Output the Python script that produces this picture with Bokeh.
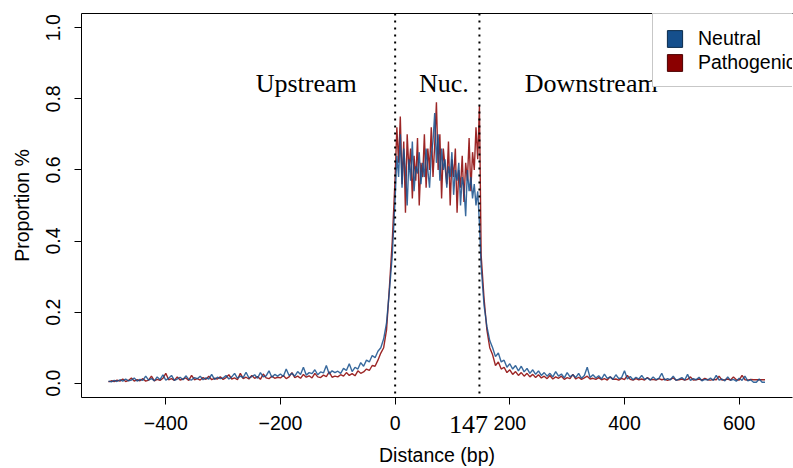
from bokeh.plotting import figure
from bokeh.models import (Range1d, FixedTicker, LinearAxis, Span, Label, Legend,
                          LegendItem, NumeralTickFormatter)
from bokeh.embed import file_html
from bokeh.resources import INLINE

# ---------------- data ----------------
up_x = list(range(-500, 0, 5))        # upstream positions (bp)
nuc_x = list(range(0, 148, 3))        # nucleosome positions (bp)
down_x = list(range(150, 646, 5))     # downstream positions (bp)

neutral_up = [
    0.006, 0.004, 0.008, 0.005, 0.010, 0.006, 0.012, 0.007, 0.009, 0.015,
    0.006, 0.011, 0.008, 0.020, 0.009, 0.013, 0.007, 0.018, 0.010, 0.024,
    0.009, 0.014, 0.022, 0.008, 0.012, 0.017, 0.010, 0.021, 0.011, 0.009,
    0.016, 0.013, 0.020, 0.010, 0.015, 0.012, 0.025, 0.011, 0.017, 0.013,
    0.015, 0.022, 0.012, 0.018, 0.028, 0.014, 0.020, 0.016, 0.031, 0.015,
    0.019, 0.024, 0.014, 0.030, 0.018, 0.021, 0.035, 0.017, 0.025, 0.020,
    0.026, 0.019, 0.040, 0.022, 0.028, 0.020, 0.033, 0.025, 0.045, 0.023,
    0.030, 0.027, 0.038, 0.024, 0.032, 0.029, 0.050, 0.026, 0.035, 0.030,
    0.034, 0.028, 0.042, 0.036, 0.055, 0.033, 0.045, 0.040, 0.058, 0.048,
    0.065, 0.060, 0.078, 0.072, 0.090, 0.100, 0.125, 0.170, 0.260, 0.360]
neutral_nuc = [
    0.52, 0.64, 0.58, 0.70, 0.55, 0.66, 0.60, 0.50, 0.63, 0.57,
    0.68, 0.54, 0.61, 0.59, 0.65, 0.56, 0.62, 0.58, 0.66, 0.60,
    0.55, 0.64, 0.68, 0.76, 0.62, 0.70, 0.57, 0.66, 0.60, 0.63,
    0.55, 0.61, 0.58, 0.65, 0.53, 0.60, 0.57, 0.62, 0.50, 0.58,
    0.55, 0.47, 0.60, 0.54, 0.58, 0.52, 0.56, 0.50, 0.54, 0.45]
neutral_down = [
    0.330, 0.220, 0.160, 0.120, 0.100, 0.075, 0.085, 0.060, 0.065, 0.045,
    0.055, 0.040, 0.050, 0.035, 0.048, 0.032, 0.042, 0.028, 0.038, 0.025,
    0.035, 0.022, 0.030, 0.020, 0.028, 0.018, 0.033, 0.020, 0.026, 0.015,
    0.030, 0.018, 0.024, 0.016, 0.028, 0.014, 0.022, 0.045, 0.016, 0.024,
    0.015, 0.021, 0.012, 0.026, 0.014, 0.018, 0.011, 0.024, 0.013, 0.016,
    0.035, 0.012, 0.019, 0.010, 0.017, 0.012, 0.022, 0.011, 0.015, 0.009,
    0.018, 0.010, 0.014, 0.028, 0.009, 0.013, 0.010, 0.020, 0.008, 0.012,
    0.016, 0.009, 0.025, 0.008, 0.013, 0.010, 0.017, 0.007, 0.011, 0.009,
    0.015, 0.008, 0.022, 0.009, 0.012, 0.007, 0.018, 0.008, 0.011, 0.006,
    0.014, 0.008, 0.020, 0.007, 0.010, 0.003, 0.003, 0.012, 0.003, 0.003]

patho_up = [
    0.004, 0.007, 0.005, 0.009, 0.006, 0.012, 0.005, 0.008, 0.015, 0.006,
    0.010, 0.007, 0.013, 0.006, 0.009, 0.020, 0.007, 0.011, 0.008, 0.014,
    0.028, 0.010, 0.013, 0.008, 0.018, 0.009, 0.012, 0.015, 0.008, 0.022,
    0.010, 0.013, 0.009, 0.016, 0.011, 0.020, 0.010, 0.014, 0.012, 0.018,
    0.011, 0.016, 0.024, 0.012, 0.015, 0.010, 0.028, 0.013, 0.017, 0.012,
    0.022, 0.014, 0.019, 0.011, 0.026, 0.015, 0.013, 0.020, 0.014, 0.017,
    0.015, 0.022, 0.013, 0.018, 0.030, 0.016, 0.020, 0.014, 0.025, 0.017,
    0.021, 0.015, 0.028, 0.018, 0.016, 0.023, 0.019, 0.032, 0.017, 0.020,
    0.018, 0.024, 0.020, 0.030, 0.022, 0.027, 0.021, 0.035, 0.028, 0.032,
    0.040, 0.036, 0.050, 0.048, 0.065, 0.085, 0.100, 0.150, 0.270, 0.400]
patho_nuc = [
    0.58, 0.72, 0.62, 0.75, 0.56, 0.68, 0.48, 0.70, 0.60, 0.66,
    0.52, 0.64, 0.57, 0.69, 0.50, 0.62, 0.58, 0.70, 0.55, 0.66,
    0.60, 0.72, 0.58, 0.67, 0.79, 0.60, 0.70, 0.52, 0.66, 0.61,
    0.56, 0.68, 0.50, 0.63, 0.58, 0.66, 0.48, 0.60, 0.55, 0.64,
    0.51, 0.62, 0.57, 0.69, 0.54, 0.65, 0.60, 0.72, 0.63, 0.78]
patho_down = [
    0.360, 0.240, 0.150, 0.100, 0.080, 0.050, 0.060, 0.040, 0.045, 0.030,
    0.038, 0.025, 0.033, 0.022, 0.030, 0.020, 0.028, 0.018, 0.025, 0.016,
    0.024, 0.015, 0.020, 0.013, 0.022, 0.012, 0.018, 0.014, 0.020, 0.011,
    0.016, 0.013, 0.025, 0.012, 0.017, 0.011, 0.015, 0.020, 0.012, 0.014,
    0.011, 0.016, 0.010, 0.013, 0.009, 0.018, 0.011, 0.012, 0.009, 0.014,
    0.010, 0.022, 0.011, 0.009, 0.013, 0.010, 0.012, 0.009, 0.016, 0.010,
    0.011, 0.009, 0.013, 0.010, 0.012, 0.008, 0.011, 0.015, 0.009, 0.010,
    0.012, 0.009, 0.011, 0.018, 0.009, 0.010, 0.012, 0.009, 0.014, 0.010,
    0.009, 0.011, 0.010, 0.020, 0.009, 0.010, 0.012, 0.009, 0.018, 0.010,
    0.009, 0.022, 0.010, 0.009, 0.011, 0.010, 0.010, 0.010, 0.010, 0.010]

x_ticks = [-400, -200, 0, 200, 400, 600]
y_ticks = [0.0, 0.2, 0.4, 0.6, 0.8, 1.0]
boundaries = [0, 147]
boundary_label = "147"
boundary_label_x = 128
region_labels = ["Upstream", "Nuc.", "Downstream"]
region_label_x = [-155, 85, 342]
region_label_y = 0.843
series_names = ["Neutral", "Pathogenic"]
series_colors = ["#154f8c", "#8b0000"]

# ---------------- figure ----------------
SANS = "Liberation Sans"
SERIF = "Liberation Serif"

p = figure(width=793, height=468, output_backend="svg", toolbar_location=None,
           x_range=Range1d(-547, 693), y_range=Range1d(-0.04, 1.04),
           min_border_left=81, min_border_right=1, min_border_top=13,
           min_border_bottom=70)
p.outline_line_color = None
p.grid.visible = False
p.background_fill_color = "white"

x_all = up_x + nuc_x + down_x
neutral_all = neutral_up + neutral_nuc + neutral_down
patho_all = patho_up + patho_nuc + patho_down

p.line(x_all, patho_all, line_color=series_colors[1], line_width=1.4, line_alpha=0.85)
p.line(x_all, neutral_all, line_color=series_colors[0], line_width=1.4, line_alpha=0.85)

for b in boundaries:
    p.add_layout(Span(location=b, dimension="height", line_color="black",
                      line_width=2, line_dash="2 5"))

# axes
for ax in (p.xaxis[0], p.yaxis[0]):
    ax.axis_line_color = "black"
    ax.major_tick_line_color = "black"
    ax.major_tick_out = 7
    ax.major_tick_in = 0
    ax.minor_tick_line_color = None
    ax.major_label_text_font = SANS
    ax.major_label_text_font_size = "19.5px"
    ax.major_label_text_color = "black"
    ax.axis_label_text_font = SANS
    ax.axis_label_text_font_size = "19.5px"
    ax.axis_label_text_font_style = "normal"
    ax.axis_label_text_color = "black"

p.xaxis.ticker = FixedTicker(ticks=x_ticks)
p.yaxis.ticker = FixedTicker(ticks=y_ticks)
p.yaxis.formatter = NumeralTickFormatter(format="0.0")
p.yaxis.major_label_orientation = "vertical"
p.yaxis.axis_label = "Proportion %"
p.xaxis.major_label_standoff = 11
p.yaxis.major_label_standoff = 14
p.yaxis.axis_label_standoff = 11

# second bottom axis: "147" marker label (pulled up into the tick-label row) and the axis title
ax2 = LinearAxis(ticker=FixedTicker(ticks=[boundary_label_x]),
                 major_label_overrides={boundary_label_x: boundary_label},
                 axis_line_color=None, major_tick_line_color=None,
                 minor_tick_line_color=None, major_tick_out=0, major_tick_in=0,
                 minor_tick_out=0, minor_tick_in=0,
                 major_label_text_font=SERIF, major_label_text_font_size="26px",
                 major_label_text_color="black", major_label_standoff=-17,
                 axis_label="Distance (bp)", axis_label_standoff=8,
                 axis_label_text_font=SANS, axis_label_text_font_size="19.5px",
                 axis_label_text_font_style="normal", axis_label_text_color="black")
p.add_layout(ax2, "below")

top_axis = LinearAxis(ticker=FixedTicker(ticks=[]), major_tick_out=0, major_tick_in=0,
                      minor_tick_out=0, minor_tick_in=0, major_label_text_font_size="0px",
                      axis_line_color="black")
p.add_layout(top_axis, "above")

for txt, xx in zip(region_labels, region_label_x):
    p.add_layout(Label(x=xx, y=region_label_y, text=txt, text_font=SERIF,
                       text_font_size="26px", text_align="center",
                       text_baseline="alphabetic", text_color="black"))

# legend (square keys drawn from off-range dummy quads)
r_n = p.quad(left=[-2000], right=[-1990], top=[5], bottom=[4], fill_color=series_colors[0],
             line_color="#0a2a4a", line_width=1)
r_p = p.quad(left=[-2000], right=[-1990], top=[5], bottom=[4], fill_color=series_colors[1],
             line_color="#4a0000", line_width=1)
legend = Legend(items=[LegendItem(label=series_names[0], renderers=[r_n]),
                       LegendItem(label=series_names[1], renderers=[r_p])],
                location=(571, 310), margin=0, padding=12, spacing=0,
                glyph_width=19, glyph_height=21, label_height=24, label_standoff=14,
                label_text_font=SANS, label_text_font_size="19.5px",
                label_text_color="black", border_line_color="#909090",
                border_line_width=1, background_fill_color="white",
                background_fill_alpha=1.0)
p.add_layout(legend)

open("out.html", "w").write(file_html(p, INLINE))
